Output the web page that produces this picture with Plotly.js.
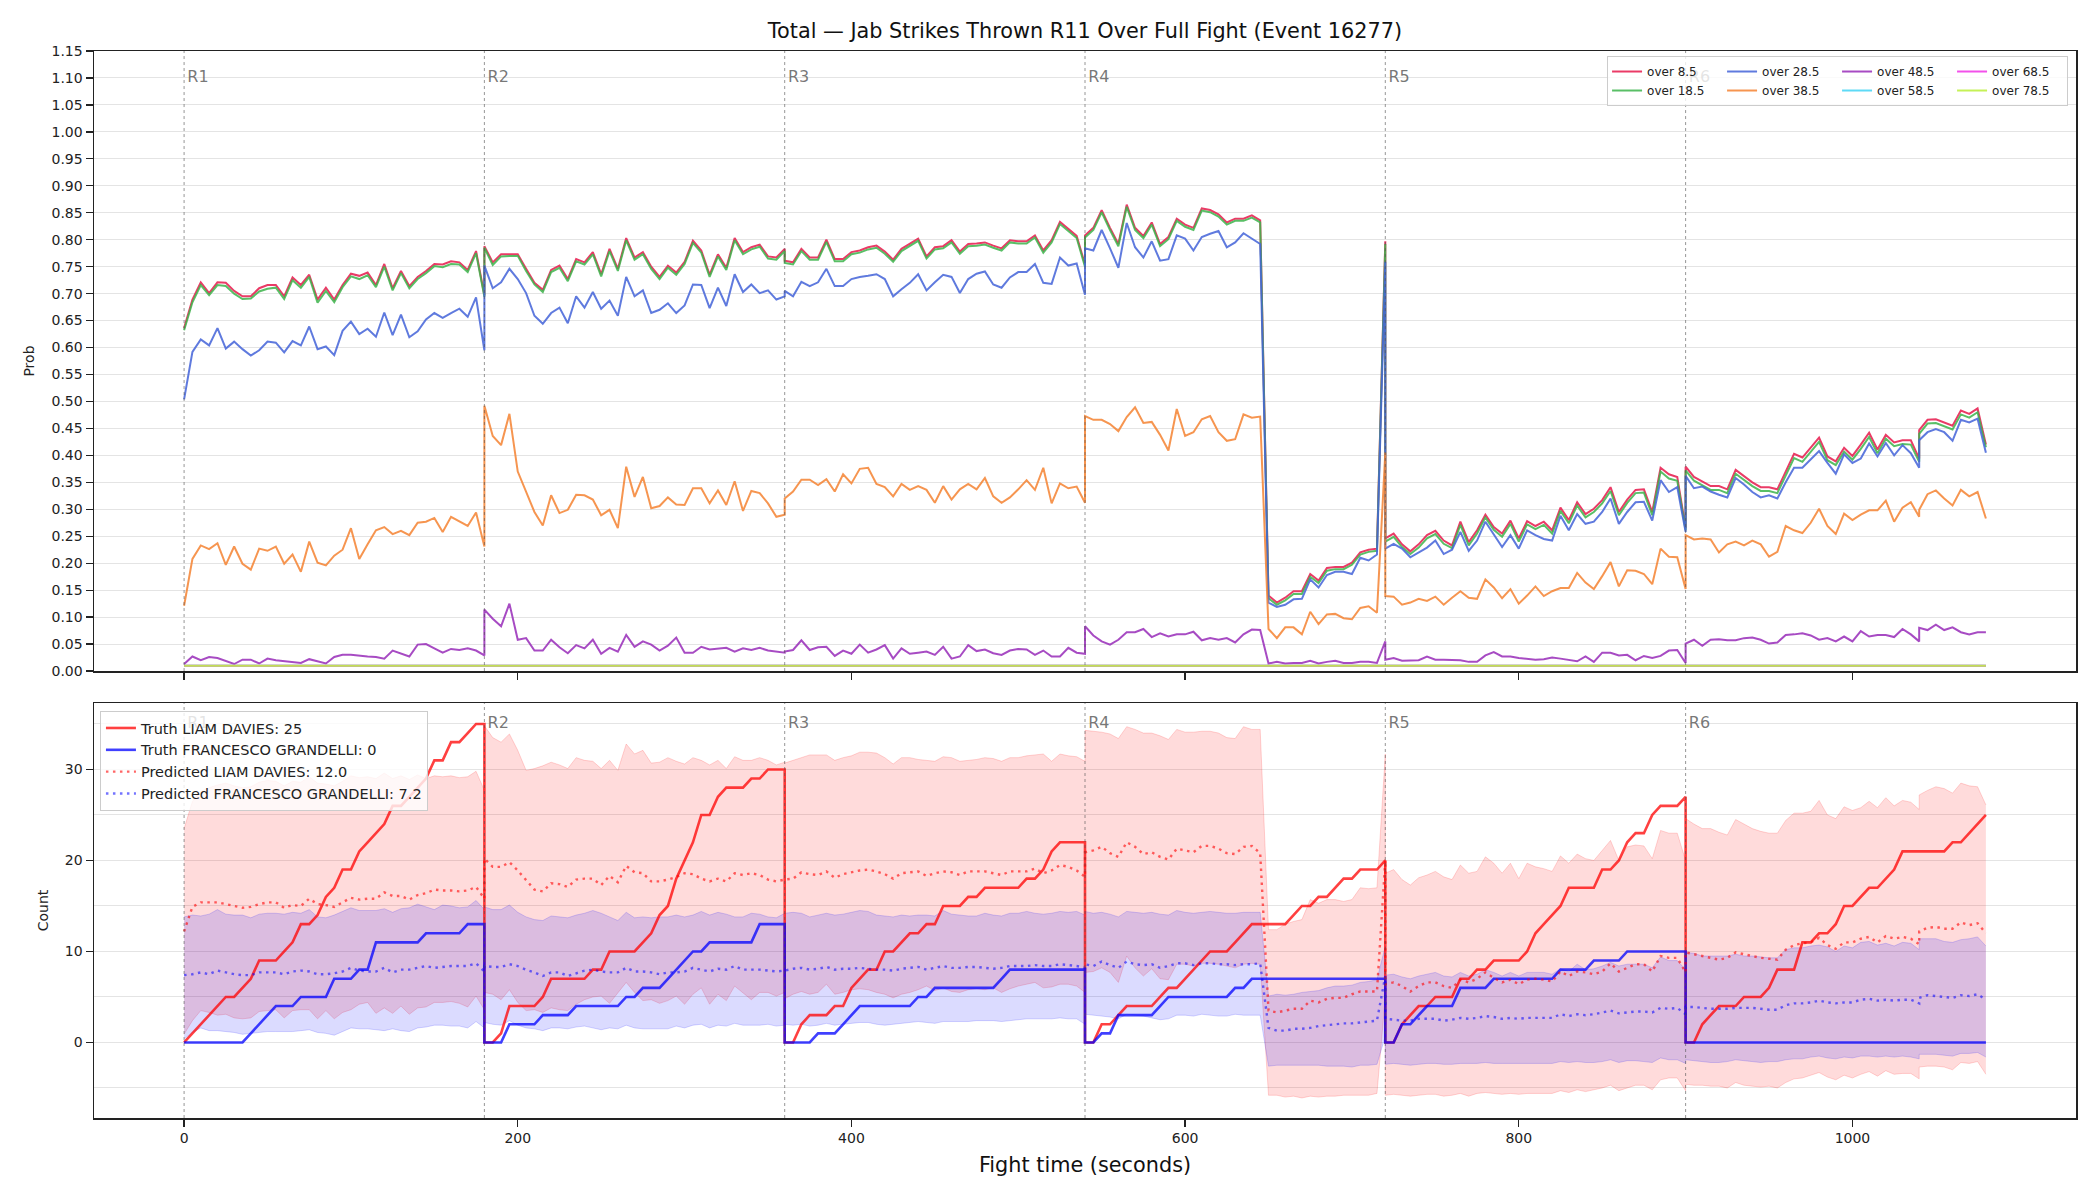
<!DOCTYPE html>
<html>
<head>
<meta charset="utf-8">
<script src="https://cdn.plot.ly/plotly-3.0.1.min.js"></script>
<style>
  html, body { margin: 0; padding: 0; background: #ffffff; }
  #chart { width: 2100px; height: 1200px; }
</style>
</head>
<body>
<div id="chart"></div>
<script>
// ---------------------------------------------------------------------------
// Fight clock: six 180 s rounds sampled every 5 s.  Each round carries its own
// first and last sample, so a round boundary appears twice (end of one round,
// start of the next).  Round 6 has two samples stamped 1040 s.
// ---------------------------------------------------------------------------
const ROUND_STARTS = [0, 180, 360, 540, 720, 900];
const ROUND_NAMES = ['R1', 'R2', 'R3', 'R4', 'R5', 'R6'];
const ROUND_LENGTH = 180;
const SAMPLE_STEP = 5;
const DOUBLED_STAMPS = [1040];

// ---- Top panel: P(total jab strikes thrown > line), one inner array per round ----
const OVER_8_5 = [
  [0.636,0.689,0.721,0.701,0.721,0.720,0.705,0.695,0.695,0.710,0.716,0.716,0.695,0.730,0.716,0.735,0.689,0.711,0.689,0.716,0.737,0.733,0.739,0.716,0.755,0.710,0.742,0.714,0.731,0.742,0.755,0.754,0.760,0.758,0.744,0.779,0.697],
  [0.788,0.758,0.773,0.773,0.773,0.746,0.720,0.707,0.744,0.752,0.727,0.764,0.758,0.777,0.736,0.783,0.746,0.803,0.767,0.777,0.750,0.731,0.752,0.739,0.759,0.798,0.780,0.735,0.773,0.748,0.803,0.777,0.786,0.791,0.769,0.767,0.783],
  [0.761,0.758,0.783,0.767,0.767,0.800,0.764,0.764,0.777,0.780,0.786,0.789,0.778,0.763,0.783,0.792,0.802,0.769,0.786,0.788,0.799,0.778,0.792,0.793,0.795,0.789,0.784,0.799,0.797,0.797,0.808,0.780,0.799,0.833,0.820,0.807,0.754],
  [0.808,0.822,0.855,0.822,0.792,0.865,0.822,0.807,0.832,0.792,0.805,0.839,0.828,0.822,0.858,0.855,0.847,0.832,0.839,0.839,0.845,0.836,0.140,0.127,0.136,0.148,0.148,0.180,0.168,0.191,0.193,0.193,0.201,0.220,0.225,0.227,0.797],
  [0.246,0.255,0.235,0.222,0.235,0.252,0.260,0.242,0.233,0.277,0.239,0.261,0.290,0.267,0.255,0.279,0.246,0.278,0.269,0.277,0.261,0.303,0.280,0.313,0.291,0.301,0.317,0.341,0.295,0.318,0.336,0.337,0.295,0.377,0.365,0.360,0.265],
  [0.379,0.360,0.352,0.343,0.343,0.337,0.373,0.362,0.350,0.341,0.341,0.337,0.371,0.403,0.396,0.414,0.433,0.398,0.389,0.414,0.399,0.420,0.442,0.411,0.438,0.424,0.428,0.428,0.394,0.447,0.466,0.467,0.461,0.455,0.483,0.477,0.487,0.420]
];
const OVER_18_5 = [
  [0.632,0.684,0.716,0.697,0.716,0.714,0.700,0.690,0.691,0.704,0.709,0.711,0.690,0.725,0.711,0.731,0.683,0.705,0.684,0.712,0.732,0.727,0.734,0.712,0.750,0.706,0.738,0.710,0.727,0.738,0.751,0.749,0.755,0.754,0.740,0.775,0.694],
  [0.785,0.753,0.769,0.770,0.770,0.742,0.717,0.703,0.740,0.748,0.723,0.760,0.754,0.773,0.732,0.779,0.742,0.799,0.763,0.773,0.746,0.727,0.748,0.735,0.755,0.794,0.776,0.731,0.769,0.744,0.799,0.773,0.782,0.787,0.765,0.763,0.779],
  [0.757,0.754,0.779,0.763,0.763,0.796,0.760,0.760,0.773,0.776,0.782,0.785,0.774,0.759,0.779,0.788,0.798,0.765,0.782,0.784,0.795,0.774,0.788,0.789,0.791,0.785,0.780,0.795,0.793,0.793,0.804,0.776,0.795,0.829,0.816,0.803,0.750],
  [0.804,0.818,0.851,0.818,0.788,0.861,0.818,0.803,0.828,0.788,0.801,0.835,0.824,0.818,0.854,0.851,0.843,0.828,0.835,0.835,0.841,0.832,0.135,0.123,0.131,0.143,0.143,0.175,0.163,0.186,0.189,0.189,0.197,0.216,0.221,0.223,0.792],
  [0.240,0.249,0.230,0.217,0.229,0.246,0.254,0.236,0.228,0.271,0.233,0.255,0.285,0.262,0.249,0.273,0.240,0.272,0.263,0.271,0.255,0.297,0.274,0.307,0.285,0.295,0.311,0.334,0.289,0.312,0.330,0.331,0.289,0.370,0.357,0.353,0.261],
  [0.372,0.353,0.345,0.336,0.336,0.330,0.366,0.355,0.343,0.334,0.334,0.330,0.363,0.395,0.388,0.406,0.425,0.391,0.382,0.407,0.392,0.412,0.434,0.404,0.431,0.417,0.421,0.420,0.388,0.440,0.459,0.460,0.454,0.448,0.476,0.470,0.480,0.415]
];
const OVER_28_5 = [
  [0.504,0.592,0.615,0.604,0.636,0.598,0.611,0.597,0.585,0.595,0.611,0.609,0.591,0.612,0.604,0.639,0.597,0.602,0.586,0.631,0.648,0.625,0.635,0.620,0.665,0.623,0.661,0.619,0.630,0.652,0.664,0.655,0.664,0.672,0.657,0.693,0.595],
  [0.752,0.710,0.721,0.746,0.727,0.701,0.659,0.644,0.664,0.674,0.645,0.695,0.674,0.703,0.672,0.687,0.659,0.731,0.695,0.706,0.664,0.670,0.682,0.664,0.678,0.717,0.716,0.673,0.711,0.677,0.736,0.703,0.717,0.701,0.706,0.689,0.695],
  [0.705,0.695,0.722,0.714,0.721,0.746,0.714,0.714,0.727,0.731,0.733,0.736,0.727,0.695,0.708,0.720,0.736,0.706,0.721,0.735,0.731,0.701,0.727,0.737,0.741,0.717,0.711,0.730,0.740,0.740,0.755,0.720,0.718,0.767,0.752,0.756,0.698],
  [0.784,0.780,0.818,0.784,0.748,0.831,0.786,0.767,0.797,0.761,0.764,0.808,0.802,0.780,0.805,0.811,0.816,0.786,0.795,0.812,0.802,0.792,0.127,0.119,0.123,0.133,0.134,0.170,0.155,0.178,0.184,0.184,0.180,0.210,0.205,0.216,0.759],
  [0.227,0.236,0.227,0.211,0.220,0.229,0.242,0.217,0.225,0.258,0.223,0.242,0.277,0.254,0.230,0.252,0.227,0.261,0.252,0.245,0.242,0.288,0.261,0.291,0.273,0.277,0.295,0.320,0.273,0.295,0.313,0.314,0.279,0.354,0.332,0.341,0.258],
  [0.362,0.339,0.342,0.333,0.327,0.322,0.358,0.346,0.332,0.322,0.326,0.320,0.350,0.377,0.377,0.392,0.408,0.386,0.366,0.402,0.386,0.394,0.422,0.398,0.423,0.400,0.419,0.404,0.377,0.428,0.443,0.449,0.443,0.427,0.466,0.461,0.468,0.405]
];
const OVER_38_5 = [
  [0.121,0.208,0.233,0.226,0.237,0.197,0.231,0.199,0.188,0.227,0.223,0.231,0.199,0.216,0.184,0.240,0.201,0.196,0.214,0.225,0.265,0.208,0.235,0.261,0.267,0.254,0.260,0.252,0.275,0.277,0.284,0.258,0.286,0.278,0.269,0.294,0.231],
  [0.492,0.436,0.419,0.477,0.370,0.333,0.295,0.270,0.326,0.293,0.299,0.327,0.326,0.318,0.289,0.299,0.265,0.379,0.323,0.360,0.302,0.306,0.322,0.309,0.308,0.339,0.339,0.311,0.335,0.308,0.352,0.297,0.334,0.330,0.311,0.286,0.290],
  [0.320,0.333,0.355,0.355,0.345,0.356,0.333,0.365,0.348,0.375,0.377,0.347,0.341,0.324,0.347,0.336,0.343,0.336,0.312,0.343,0.318,0.337,0.347,0.337,0.358,0.324,0.312,0.322,0.337,0.354,0.336,0.377,0.311,0.348,0.339,0.342,0.312],
  [0.473,0.466,0.466,0.458,0.445,0.471,0.489,0.460,0.462,0.438,0.409,0.486,0.436,0.443,0.467,0.473,0.443,0.427,0.430,0.476,0.470,0.472,0.078,0.061,0.081,0.081,0.068,0.110,0.087,0.105,0.106,0.098,0.096,0.117,0.120,0.108,0.405],
  [0.139,0.138,0.123,0.127,0.134,0.130,0.138,0.123,0.136,0.148,0.136,0.134,0.170,0.155,0.135,0.152,0.125,0.140,0.157,0.139,0.148,0.154,0.154,0.182,0.164,0.152,0.176,0.202,0.157,0.187,0.186,0.180,0.161,0.227,0.212,0.211,0.152],
  [0.252,0.244,0.246,0.244,0.220,0.235,0.240,0.233,0.242,0.235,0.212,0.221,0.269,0.261,0.256,0.275,0.301,0.269,0.254,0.292,0.280,0.290,0.298,0.298,0.316,0.277,0.303,0.313,0.286,0.299,0.328,0.335,0.320,0.307,0.336,0.324,0.332,0.283]
];
const OVER_48_5 = [
  [0.013,0.027,0.020,0.026,0.024,0.019,0.013,0.021,0.021,0.014,0.023,0.020,0.018,0.017,0.015,0.022,0.018,0.014,0.026,0.030,0.030,0.028,0.027,0.026,0.023,0.038,0.033,0.027,0.049,0.050,0.042,0.034,0.041,0.039,0.042,0.038,0.029],
  [0.114,0.097,0.083,0.125,0.058,0.061,0.038,0.038,0.058,0.044,0.033,0.048,0.042,0.058,0.032,0.043,0.036,0.067,0.045,0.055,0.049,0.038,0.047,0.062,0.034,0.034,0.045,0.040,0.042,0.043,0.036,0.042,0.039,0.043,0.038,0.036,0.034],
  [0.036,0.039,0.057,0.039,0.044,0.045,0.028,0.038,0.032,0.049,0.034,0.040,0.048,0.023,0.042,0.032,0.034,0.036,0.030,0.045,0.023,0.027,0.048,0.037,0.040,0.033,0.030,0.038,0.041,0.040,0.030,0.038,0.027,0.027,0.043,0.034,0.032],
  [0.083,0.066,0.055,0.049,0.058,0.072,0.072,0.078,0.063,0.070,0.064,0.068,0.068,0.073,0.057,0.061,0.058,0.061,0.053,0.068,0.077,0.076,0.014,0.017,0.014,0.015,0.015,0.019,0.014,0.017,0.019,0.015,0.015,0.017,0.017,0.015,0.055],
  [0.021,0.024,0.019,0.019,0.020,0.027,0.021,0.021,0.021,0.020,0.017,0.017,0.029,0.035,0.027,0.027,0.024,0.022,0.021,0.022,0.025,0.023,0.021,0.018,0.027,0.017,0.034,0.034,0.029,0.030,0.020,0.028,0.024,0.028,0.038,0.039,0.015],
  [0.051,0.058,0.047,0.058,0.059,0.057,0.057,0.061,0.062,0.058,0.051,0.053,0.067,0.068,0.070,0.066,0.058,0.061,0.055,0.064,0.055,0.074,0.064,0.067,0.067,0.063,0.078,0.068,0.055,0.080,0.076,0.086,0.076,0.081,0.072,0.068,0.072,0.072]
];
// The three highest lines sit flat near 0.01 for the whole fight; read at round edges.
const TAIL_TIMES = [0, 180, 360, 540, 720, 900, 1080];
const OVER_58_5 = [0.01, 0.01, 0.01, 0.01, 0.01, 0.01, 0.01];
const OVER_68_5 = [0.01, 0.01, 0.01, 0.01, 0.01, 0.01, 0.01];
const OVER_78_5 = [0.01, 0.01, 0.01, 0.01, 0.01, 0.01, 0.01];

// ---- Bottom panel: cumulative jab counts within each round ----
const TRUTH_DAVIES = [
  [0,1,2,3,4,5,5,6,7,9,9,9,10,11,13,13,14,16,17,19,19,21,22,23,24,26,26,27,28,29,31,31,33,33,34,35,35],
  [0,0,1,4,4,4,4,5,7,7,7,7,7,8,8,10,10,10,10,11,12,14,15,18,20,22,25,25,27,28,28,28,29,29,30,30,30],
  [0,0,2,3,3,3,4,4,6,7,8,8,10,10,11,12,12,13,13,15,15,15,16,16,17,17,17,17,17,18,18,19,21,22,22,22,22],
  [0,0,2,2,3,4,4,4,4,5,6,6,7,8,9,10,10,10,11,12,13,13,13,13,13,14,15,15,16,16,17,18,18,19,19,19,20],
  [0,0,2,3,4,4,5,5,5,7,7,8,8,9,9,9,9,10,12,13,14,15,17,17,17,17,19,19,20,22,23,23,25,26,26,26,27],
  [0,0,2,3,4,4,4,5,5,5,6,8,8,8,11,11,12,12,13,15,15,16,17,17,18,19,21,21,21,21,21,21,21,22,22,23,24,25]
];
const TRUTH_GRANDELLI = [
  [0,0,0,0,0,0,0,0,1,2,3,4,4,4,5,5,5,5,7,7,7,8,8,11,11,11,11,11,11,12,12,12,12,12,13,13,13],
  [0,0,0,2,2,2,2,3,3,3,3,4,4,4,4,4,4,5,5,6,6,6,7,8,9,10,10,11,11,11,11,11,11,13,13,13,13],
  [0,0,0,0,1,1,1,2,3,4,4,4,4,4,4,4,5,5,6,6,6,6,6,6,6,6,7,8,8,8,8,8,8,8,8,8,8],
  [0,0,1,1,3,3,3,3,3,4,5,5,5,5,5,5,5,5,6,6,7,7,7,7,7,7,7,7,7,7,7,7,7,7,7,7,7],
  [0,0,2,2,3,4,4,4,4,6,6,6,6,7,7,7,7,7,7,7,7,8,8,8,8,9,9,9,9,10,10,10,10,10,10,10,10],
  [0,0,0,0,0,0,0,0,0,0,0,0,0,0,0,0,0,0,0,0,0,0,0,0,0,0,0,0,0,0,0,0,0,0,0,0,0,0]
];
const PRED_DAVIES = [
  [12.2,14.9,15.4,15.4,15.4,15.2,15.0,14.8,14.9,15.2,15.4,15.4,14.8,15.1,15.0,15.8,15.2,15.1,14.9,15.4,15.9,15.7,15.8,15.8,16.5,16.1,16.1,15.7,16.2,16.4,16.8,16.7,16.7,16.6,16.7,17.1,15.8],
  [20.2,19.3,19.3,19.8,18.9,17.9,16.8,16.6,17.5,17.4,17.1,17.9,18.0,18.0,17.3,18.3,17.6,19.4,18.7,18.6,17.7,17.7,17.9,18.2,18.6,18.5,18.0,17.7,18.0,17.7,18.6,18.4,18.6,18.4,17.9,17.7,17.9],
  [17.9,18.0,18.7,18.5,18.4,18.8,18.1,18.5,18.7,18.9,19.0,18.8,18.5,18.0,18.6,18.7,18.8,18.3,18.6,18.8,18.7,18.4,18.8,18.8,18.8,18.6,18.4,18.8,18.8,18.8,19.1,18.6,18.9,19.5,19.3,18.9,18.2],
  [20.9,21.1,21.5,20.8,20.4,22.0,21.5,20.7,20.9,20.4,20.1,21.3,21.1,20.9,21.6,21.6,21.3,20.8,20.7,21.5,21.6,20.8,3.5,3.3,3.5,3.7,3.7,4.6,4.4,4.8,4.9,4.9,5.3,5.6,5.6,5.6,20.0],
  [6.4,6.6,6.2,5.6,6.2,6.6,6.6,6.2,6.0,6.9,6.6,7.0,7.7,7.1,6.6,6.9,6.4,6.9,7.0,6.9,6.7,7.8,7.3,7.8,7.7,7.5,7.8,8.7,7.8,8.2,8.6,8.6,7.8,9.5,9.3,9.3,7.7],
  [9.9,9.7,9.5,9.3,9.1,9.3,9.9,9.7,9.5,9.3,9.2,9.1,10.2,10.7,10.9,11.0,11.5,10.7,10.3,11.0,11.0,11.4,11.6,11.0,11.7,11.4,11.6,11.4,10.8,12.2,12.6,12.7,12.5,12.5,13.2,12.9,13.1,12.0]
];
const PRED_GRANDELLI = [
  [7.4,7.5,7.7,7.5,7.9,7.7,7.5,7.4,7.4,7.7,7.7,7.7,7.5,7.8,7.9,7.8,7.5,7.5,7.6,7.8,8.2,7.9,7.8,7.8,8.2,7.7,8.0,8.0,8.2,8.4,8.2,8.3,8.4,8.4,8.4,8.7,7.8],
  [8.4,8.3,8.3,8.6,8.4,8.0,7.7,7.3,7.7,7.7,7.3,7.6,7.9,8.0,7.8,7.7,7.7,8.2,7.8,7.8,7.7,7.5,7.7,7.7,7.8,8.2,8.0,7.8,8.1,8.0,8.4,8.0,8.0,8.0,7.9,7.8,7.9],
  [7.9,8.1,8.2,8.0,8.1,8.3,8.0,8.1,8.1,8.2,8.1,8.0,8.0,7.9,8.1,8.2,8.3,8.0,8.2,8.4,8.2,8.2,8.3,8.3,8.2,8.1,8.2,8.4,8.4,8.4,8.5,8.4,8.4,8.6,8.5,8.4,8.2],
  [8.6,8.4,8.9,8.5,8.2,8.9,8.6,8.5,8.6,8.2,8.4,8.7,8.7,8.5,8.7,8.7,8.6,8.6,8.5,8.6,8.6,8.7,1.6,1.3,1.3,1.5,1.5,1.6,1.8,1.9,2.0,2.1,2.1,2.2,2.3,2.4,7.3],
  [2.6,2.5,2.4,2.4,2.6,2.6,2.6,2.4,2.5,2.7,2.6,2.7,2.9,2.8,2.6,2.7,2.6,2.7,2.7,2.7,2.7,3.1,2.9,3.1,3.0,3.1,3.3,3.5,3.2,3.3,3.4,3.4,3.3,3.8,3.7,3.8,3.1],
  [3.9,3.9,3.8,3.7,3.7,3.7,3.8,3.8,3.8,3.7,3.6,3.6,4.1,4.3,4.3,4.4,4.6,4.4,4.3,4.4,4.4,4.7,4.8,4.6,4.7,4.6,4.7,4.7,4.3,4.9,5.2,5.1,5.0,4.9,5.2,5.1,5.3,4.7]
];
// Prediction intervals (lower / upper) for each fighter
const DAVIES_LO = [
  [0.9,2.4,3.5,3.3,3.0,3.1,2.7,2.6,2.7,3.4,3.5,3.6,2.7,3.5,3.6,3.6,2.6,3.5,2.6,3.3,3.6,4.2,4.4,3.2,3.8,3.2,4.0,3.1,3.8,3.9,4.4,4.4,4.5,4.3,3.9,5.1,3.6],
  [5.5,5.3,4.7,5.8,4.4,3.5,3.6,3.3,3.8,3.6,3.5,4.2,4.7,5.0,5.1,4.3,5.5,6.6,5.5,4.6,4.7,4.3,4.6,5.1,4.2,5.3,6.0,4.2,5.3,4.6,6.2,5.5,4.7,5.5,5.5,5.1,5.5],
  [4.8,5.3,5.6,5.3,5.5,6.4,5.3,5.5,5.8,5.9,5.8,5.5,5.3,4.9,5.3,5.5,5.8,6.2,5.7,6.0,5.6,5.5,5.8,5.9,5.8,6.0,5.5,5.9,6.2,6.4,6.6,6.0,6.1,6.4,6.4,6.2,5.5],
  [7.7,7.8,8.2,7.7,6.6,9.5,8.2,7.3,8.1,7.0,6.9,8.6,8.6,8.4,8.7,8.7,8.6,8.4,8.2,8.6,8.7,8.6,-5.8,-5.8,-6.0,-5.9,-6.1,-5.9,-6.0,-5.9,-5.9,-5.8,-5.8,-5.8,-5.8,-5.6,5.0],
  [-5.8,-5.7,-5.8,-5.9,-5.8,-5.7,-5.7,-5.9,-5.8,-5.6,-5.9,-5.6,-5.5,-5.6,-5.7,-5.6,-5.7,-5.6,-5.6,-5.6,-5.6,-5.3,-5.5,-5.2,-5.4,-5.2,-5.0,-4.7,-5.3,-5.0,-4.7,-4.7,-5.2,-4.1,-3.9,-3.9,-5.3],
  [-4.6,-4.7,-4.7,-4.8,-4.8,-5.0,-4.4,-4.7,-4.8,-4.9,-4.8,-5.0,-4.4,-4.0,-3.9,-3.6,-3.3,-3.8,-4.1,-3.6,-3.9,-3.5,-3.2,-3.7,-3.1,-3.5,-3.4,-3.4,-4.0,-2.7,-2.6,-2.6,-2.7,-3.0,-2.2,-2.3,-2.1,-3.5]
];
const DAVIES_HI = [
  [23.5,26.5,27.6,28.0,28.3,28.5,28.2,28.0,28.1,28.6,28.8,28.7,28.2,28.7,28.6,29.2,28.5,28.4,28.2,28.7,29.3,29.1,29.2,29.0,29.6,29.0,29.3,28.9,29.4,29.0,29.3,29.2,29.3,29.1,29.2,29.8,27.7],
  [34.8,33.5,33.0,33.9,32.1,29.9,30.1,30.4,30.8,30.5,30.1,31.3,31.0,30.9,30.1,31.0,29.9,32.8,31.7,32.1,30.7,30.8,31.3,30.9,30.6,31.3,31.0,30.5,31.0,30.1,31.4,31.0,31.0,31.3,31.0,30.5,30.8],
  [30.7,31.0,31.3,31.6,31.6,31.6,31.0,31.3,31.5,31.9,31.9,31.8,31.3,30.6,31.3,31.3,31.1,31.0,30.9,31.4,31.3,30.9,31.0,31.1,31.3,31.2,30.9,31.3,31.3,31.5,31.6,31.7,30.9,31.7,31.5,31.4,30.9],
  [34.3,34.2,34.1,33.9,33.4,34.7,34.4,34.0,34.0,33.7,33.3,34.4,34.1,34.1,34.2,34.2,34.0,33.5,33.4,34.7,34.4,34.4,12.4,12.4,13.0,13.3,13.5,15.7,15.3,15.7,15.7,15.5,15.7,17.0,16.9,17.0,31.7],
  [18.6,19.0,17.9,17.3,18.1,18.4,18.8,18.2,17.9,19.5,18.6,18.8,20.4,19.7,18.6,19.7,18.0,19.7,19.3,19.1,18.8,20.5,19.7,20.7,20.2,20.0,21.1,22.2,20.0,21.5,21.7,21.6,20.2,23.3,23.0,23.0,20.0],
  [24.6,24.0,23.5,23.5,23.1,22.8,24.5,24.0,23.5,23.2,23.0,23.0,24.4,25.2,25.2,25.4,26.6,25.0,24.6,25.9,25.5,25.8,26.5,25.8,26.9,26.0,26.6,26.4,25.6,27.2,27.7,28.1,27.9,27.4,28.5,28.2,28.1,26.1]
];
const GRANDELLI_LO = [
  [0.4,1.1,1.6,1.3,1.3,1.2,1.1,0.9,1.0,1.1,1.2,1.2,1.2,1.2,1.3,1.4,1.1,1.0,0.8,1.2,1.6,1.5,1.5,1.4,1.3,1.5,1.3,1.2,1.6,1.7,1.9,1.9,1.8,1.8,1.6,2.3,1.6],
  [2.2,2.0,1.9,2.4,1.9,1.6,1.5,1.3,1.6,1.6,1.5,1.7,1.8,1.6,1.4,1.6,1.5,1.9,1.6,1.5,1.5,1.5,1.5,1.8,1.6,1.9,2.0,1.6,1.9,1.8,2.1,1.9,1.9,1.9,2.0,1.8,1.9],
  [2.0,1.9,2.0,1.8,1.9,2.1,1.9,2.0,2.1,2.2,2.2,2.0,1.9,2.0,2.1,2.2,2.3,2.2,2.1,2.3,2.3,2.3,2.3,2.4,2.4,2.4,2.3,2.4,2.5,2.6,2.6,2.6,2.6,2.7,2.6,2.6,2.0],
  [3.1,3.0,2.9,2.8,2.6,3.1,3.0,2.9,2.7,2.5,2.6,3.0,3.0,2.9,3.1,3.0,2.9,2.9,3.1,3.0,3.0,3.0,-2.6,-2.5,-2.5,-2.5,-2.5,-2.5,-2.5,-2.6,-2.6,-2.6,-2.7,-2.5,-2.5,-2.4,0.7],
  [-2.4,-2.3,-2.4,-2.5,-2.4,-2.3,-2.3,-2.4,-2.4,-2.3,-2.3,-2.3,-2.2,-2.3,-2.3,-2.3,-2.3,-2.3,-2.3,-2.3,-2.3,-2.1,-2.2,-2.1,-2.2,-2.2,-2.1,-1.9,-2.2,-2.0,-2.0,-2.1,-2.2,-1.7,-1.9,-1.9,-2.3],
  [-1.9,-2.0,-2.1,-2.2,-2.2,-2.1,-1.9,-2.0,-2.1,-2.2,-2.1,-2.1,-1.9,-1.8,-1.8,-1.6,-1.5,-1.7,-1.8,-1.6,-1.7,-1.5,-1.5,-1.6,-1.5,-1.6,-1.5,-1.6,-1.8,-1.3,-1.3,-1.3,-1.4,-1.5,-1.2,-1.2,-1.1,-1.6]
];
const GRANDELLI_HI = [
  [13.8,14.0,13.9,14.1,14.6,14.1,14.0,14.0,13.7,14.1,14.2,14.2,14.1,14.3,14.2,14.6,13.8,13.7,14.0,14.4,14.8,14.5,14.5,14.5,14.7,14.3,14.7,14.8,15.2,14.9,14.6,15.1,15.0,14.8,14.9,15.6,14.6],
  [14.9,14.6,14.6,15.1,14.3,13.8,13.5,13.4,13.9,13.8,13.7,14.0,14.2,14.5,14.2,13.8,13.4,14.3,13.7,13.8,13.7,13.8,13.8,14.0,13.8,14.0,14.4,14.0,14.3,14.1,13.8,13.8,14.2,14.1,13.8,13.7,14.2],
  [14.2,14.3,14.2,13.8,14.0,14.2,14.0,14.1,14.3,14.5,14.4,14.0,13.9,13.8,14.0,13.9,14.0,14.0,13.9,14.5,14.1,14.0,13.9,13.9,14.2,14.0,13.9,14.2,14.2,14.4,14.2,14.1,14.2,14.4,14.3,14.4,14.0],
  [14.4,14.2,14.3,14.1,13.8,14.4,14.3,14.2,14.3,14.1,14.0,14.5,14.3,14.2,14.3,14.4,14.3,14.2,14.2,14.3,14.3,14.3,5.1,5.3,5.2,5.3,5.5,5.6,5.7,6.0,6.2,6.2,6.3,6.6,6.7,6.9,10.6],
  [7.4,7.5,7.2,7.0,7.3,7.5,7.7,7.3,7.2,7.7,7.3,7.5,8.0,7.7,7.3,7.7,7.3,7.7,7.7,7.7,7.5,8.1,7.8,8.6,8.0,8.1,8.4,8.8,8.4,8.6,8.6,8.6,8.2,9.4,9.0,9.0,8.0],
  [9.9,9.8,9.5,9.5,9.5,9.5,9.7,9.5,9.5,9.4,9.3,9.3,10.2,10.4,10.4,10.6,10.7,10.5,10.0,10.6,10.4,11.0,11.1,10.7,10.9,10.6,11.0,10.9,10.2,11.4,11.4,11.4,11.1,11.0,11.3,11.4,11.6,10.6]
];
const LEGEND_NAMES = [
  'Truth LIAM DAVIES: 25',
  'Truth FRANCESCO GRANDELLI: 0',
  'Predicted LIAM DAVIES: 12.0',
  'Predicted FRANCESCO GRANDELLI: 7.2'
];

// ---------------------------------------------------------------------------
// Build the sampling clock and flatten the per-round arrays onto it
// ---------------------------------------------------------------------------
function roundClock(r) {
  const out = [];
  const start = ROUND_STARTS[r];
  for (let t = start; t <= start + ROUND_LENGTH; t += SAMPLE_STEP) {
    out.push(t);
    if (DOUBLED_STAMPS.includes(t)) out.push(t);
  }
  return out;
}
const CLOCK = [].concat(...ROUND_STARTS.map((_, r) => roundClock(r)));
const flat = rounds => [].concat(...rounds);

const FONT = '"DejaVu Sans", Verdana, sans-serif';
const INK = '#222222';
const GRID = '#e4e4e4';

// ---- top panel lines ----
const overLines = [
  { name: 'over 8.5',  y: flat(OVER_8_5),  color: 'rgba(230,25,75,0.85)',   group: 'c1' },
  { name: 'over 18.5', y: flat(OVER_18_5), color: 'rgba(60,180,75,0.85)',   group: 'c1' },
  { name: 'over 28.5', y: flat(OVER_28_5), color: 'rgba(67,99,216,0.85)',   group: 'c2' },
  { name: 'over 38.5', y: flat(OVER_38_5), color: 'rgba(245,130,49,0.85)',  group: 'c2' },
  { name: 'over 48.5', y: flat(OVER_48_5), color: 'rgba(145,30,180,0.8)',   group: 'c3' },
  { name: 'over 58.5', y: OVER_58_5, x: TAIL_TIMES, color: 'rgba(66,212,244,0.85)',  group: 'c3' },
  { name: 'over 68.5', y: OVER_68_5, x: TAIL_TIMES, color: 'rgba(240,50,230,0.85)',  group: 'c4' },
  { name: 'over 78.5', y: OVER_78_5, x: TAIL_TIMES, color: 'rgba(191,239,69,0.9)',   group: 'c4' }
];

const traces = [];
overLines.forEach(s => {
  traces.push({
    type: 'scatter', mode: 'lines', name: s.name,
    x: s.x || CLOCK, y: s.y,
    xaxis: 'x', yaxis: 'y',
    line: { color: s.color, width: 2 },
    legend: 'legend', legendgroup: s.group,
    hoverinfo: 'skip'
  });
});

// round labels along the top of each panel (leading space keeps them off the marker line)
const roundLabelText = ROUND_NAMES.map(n => '\u2009' + n);
const roundLabelFont = { family: FONT, size: 16, color: 'rgba(95,95,95,0.85)' };
traces.push({
  type: 'scatter', mode: 'text', x: ROUND_STARTS, y: ROUND_STARTS.map(() => 1.10),
  text: roundLabelText, textposition: 'middle right', textfont: roundLabelFont,
  xaxis: 'x', yaxis: 'y', showlegend: false, hoverinfo: 'skip', cliponaxis: false
});

// ---- bottom panel: prediction bands ----
function band(lo, hi, rgb) {
  const edge = 'rgba(' + rgb + ',0.16)';
  traces.push({
    type: 'scatter', mode: 'lines', x: CLOCK, y: flat(lo),
    xaxis: 'x2', yaxis: 'y2', line: { color: edge, width: 1 },
    showlegend: false, hoverinfo: 'skip'
  });
  traces.push({
    type: 'scatter', mode: 'lines', x: CLOCK, y: flat(hi),
    xaxis: 'x2', yaxis: 'y2', line: { color: edge, width: 1 },
    fill: 'tonexty', fillcolor: 'rgba(' + rgb + ',0.14)',
    showlegend: false, hoverinfo: 'skip'
  });
}
band(DAVIES_LO, DAVIES_HI, '255,0,0');
band(GRANDELLI_LO, GRANDELLI_HI, '0,0,255');

// ---- bottom panel: truth and predicted counts ----
const countLines = [
  { y: TRUTH_DAVIES,    color: 'rgba(255,0,0,0.75)', width: 2.6, dash: 'solid' },
  { y: TRUTH_GRANDELLI, color: 'rgba(0,0,255,0.75)', width: 2.6, dash: 'solid' },
  { y: PRED_DAVIES,     color: 'rgba(255,0,0,0.6)',  width: 2.4, dash: '2.5px,4.5px' },
  { y: PRED_GRANDELLI,  color: 'rgba(0,0,255,0.55)', width: 2.4, dash: '2.5px,4.5px' }
];
countLines.forEach((s, i) => {
  traces.push({
    type: 'scatter', mode: 'lines', name: LEGEND_NAMES[i],
    x: CLOCK, y: flat(s.y), xaxis: 'x2', yaxis: 'y2',
    line: { color: s.color, width: s.width, dash: s.dash },
    legend: 'legend2', hoverinfo: 'skip'
  });
});

traces.push({
  type: 'scatter', mode: 'text', x: ROUND_STARTS, y: ROUND_STARTS.map(() => 35.05),
  text: roundLabelText, textposition: 'middle right', textfont: roundLabelFont,
  xaxis: 'x2', yaxis: 'y2', showlegend: false, hoverinfo: 'skip', cliponaxis: false
});

// ---- round boundary markers ----
const shapes = [];
ROUND_STARTS.forEach(t => {
  [['x', 'y domain'], ['x2', 'y2 domain']].forEach(([xr, yr]) => {
    shapes.push({
      type: 'line', xref: xr, yref: yr, x0: t, x1: t, y0: 0, y1: 1,
      line: { color: 'rgba(80,80,80,0.6)', width: 1, dash: 'dot' }, layer: 'above'
    });
  });
});

const tickFont = { family: FONT, size: 14, color: INK };
const frame = {
  showline: true, mirror: true, linecolor: INK, linewidth: 1.5,
  ticks: 'outside', ticklen: 7, tickwidth: 1.3, tickcolor: INK,
  zeroline: false, tickfont: tickFont
};
const X_RANGE = [-54, 1134];

const layout = {
  width: 2100, height: 1200,
  paper_bgcolor: '#ffffff', plot_bgcolor: '#ffffff',
  margin: { l: 94, r: 24, t: 51, b: 82 },
  font: { family: FONT, color: INK },
  hovermode: false,
  title: {
    text: 'Total — Jab Strikes Thrown R11 Over Full Fight (Event 16277)',
    font: { family: FONT, size: 20.8, color: '#111111' },
    x: 0.5, xref: 'paper', xanchor: 'center',
    y: 1 - 31 / 1200, yref: 'container', yanchor: 'middle'
  },
  xaxis: Object.assign({}, frame, {
    domain: [0, 1], anchor: 'y', range: X_RANGE, tick0: 0, dtick: 200,
    showticklabels: false, showgrid: false
  }),
  yaxis: Object.assign({}, frame, {
    domain: [0.4189, 1], anchor: 'x', range: [0, 1.15], tick0: 0, dtick: 0.05,
    tickformat: '.2f', showgrid: true, gridcolor: GRID, gridwidth: 1,
    title: { text: 'Prob', font: { family: FONT, size: 14, color: INK }, standoff: 13 }
  }),
  xaxis2: Object.assign({}, frame, {
    domain: [0, 1], anchor: 'y2', range: X_RANGE, tick0: 0, dtick: 200,
    showgrid: false,
    title: { text: 'Fight time (seconds)', font: { family: FONT, size: 20.8, color: '#111111' }, standoff: 12 }
  }),
  yaxis2: Object.assign({}, frame, {
    domain: [0, 0.3889], anchor: 'x2', range: [-8.3, 37.3], tick0: 0, dtick: 10,
    showgrid: true, gridcolor: GRID, gridwidth: 1,
    minor: { dtick: 5, tick0: 0, showgrid: true, gridcolor: GRID, gridwidth: 1, ticks: '' },
    title: { text: 'Count', font: { family: FONT, size: 14, color: INK }, standoff: 13 }
  }),
  legend: {
    orientation: 'h', traceorder: 'grouped', tracegroupgap: 10,
    entrywidth: 70, entrywidthmode: 'pixels',
    x: 0.7634, xanchor: 'left', y: 0.9953, yanchor: 'top',
    xref: 'paper', yref: 'paper',
    bgcolor: 'rgba(255,255,255,0.8)', bordercolor: '#cccccc', borderwidth: 1,
    font: { family: FONT, size: 12, color: INK }
  },
  legend2: {
    orientation: 'v', traceorder: 'normal',
    x: 0.003, xanchor: 'left', y: 0.3814, yanchor: 'top',
    xref: 'paper', yref: 'paper',
    bgcolor: 'rgba(255,255,255,0.8)', bordercolor: '#cccccc', borderwidth: 1,
    font: { family: FONT, size: 14.5, color: INK }
  },
  shapes: shapes
};

Plotly.newPlot('chart', traces, layout, { displayModeBar: false, staticPlot: true });
</script>
</body>
</html>
